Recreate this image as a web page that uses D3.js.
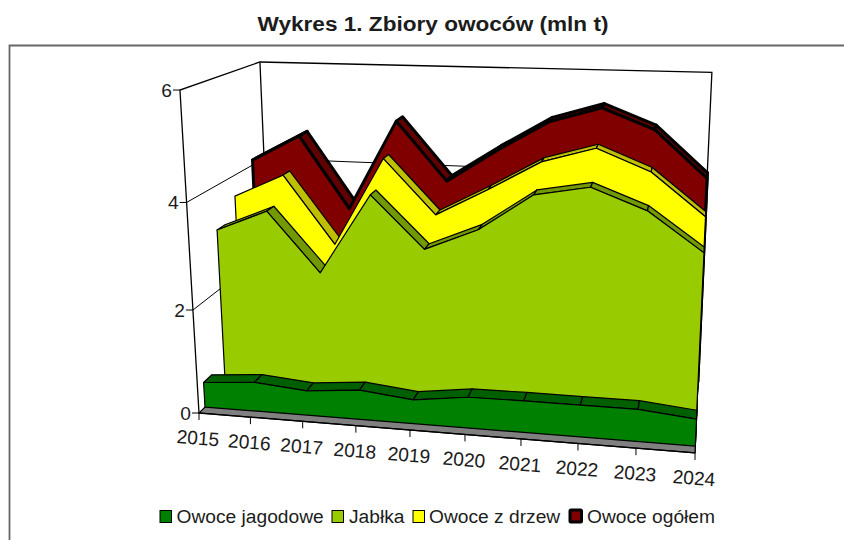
<!DOCTYPE html>
<html lang="pl">
<head>
<meta charset="utf-8">
<script src="https://cdnjs.cloudflare.com/ajax/libs/d3/7.8.5/d3.min.js"></script>
<style>
html,body{margin:0;padding:0;background:#fff;}
svg{display:block;}
text{font-family:"Liberation Sans",Arial,sans-serif;fill:#1c1c1c;}
</style>
</head>
<body>
<svg id="c" width="844" height="540"></svg>
<script>
const titleText = "Wykres 1. Zbiory owoców (mln t)";
const years = [2015,2016,2017,2018,2019,2020,2021,2022,2023,2024];
const yTicks = [0,2,4,6];
const seriesNames = ["Owoce jagodowe","Jabłka","Owoce z drzew","Owoce ogółem"];
const berries = [0.49,0.57,0.48,0.57,0.46,0.59,0.60,0.60,0.60,0.50];
const apples  = [3.16,3.57,2.43,3.97,2.99,3.41,4.10,4.28,3.90,3.19];
const trees   = [3.59,4.05,2.72,4.45,3.40,3.93,4.50,4.79,4.39,3.60];
const total   = [4.10,4.63,3.18,4.99,3.83,4.48,5.07,5.37,4.98,4.09];
const seriesValues = [berries,apples,trees,total];
const frontColors = ["#008000","#99CC00","#FFFF00","#800000"];
const topColors   = ["#006000","#739900","#BFBF00","#600000"];

const svg = d3.select("#c");
const W = 844, H = 540;

const xS = d3.scalePoint().domain(years).range([0,1]);
const yS = d3.scaleLinear().domain([0,6]).range([0,1]);
const zFront = d3.scaleOrdinal().domain(seriesNames).range([0.0715,0.328,0.573,0.833]);
const zDepth = d3.scaleOrdinal().domain(seriesNames).range([0.1,0.1,0.1,0.13]);

function P(u,v,t){
  const w = 1 - 0.075*u - 0.0637*v + 0.164*t;
  return [
    (199 + 443.9*u - 30.5*v + 117.5*t)/w,
    (413 +   6.0*u - 328.7*v - 16.1*t)/w
  ];
}
const line = d3.line();
const closed = pts => line(pts) + "Z";

svg.append("rect").attr("width",W).attr("height",H).attr("fill","#fff");

// Frame: the reference crop only shows its top and left sides
svg.append("path").attr("d",line([[9.5,H],[9.5,45.5],[W,45.5]]))
  .attr("fill","none").attr("stroke","#666").attr("stroke-width",1.8);

// Title
svg.append("text").attr("x",433).attr("y",31).attr("text-anchor","middle")
  .attr("font-size",19.5).attr("font-weight","bold")
  .attr("textLength",351).attr("lengthAdjust","spacingAndGlyphs").text(titleText);

// Walls
const walls = svg.append("g").attr("fill","none").attr("stroke","#000").attr("stroke-width",1.3);
walls.append("path").attr("d",line([P(0,0,0),P(0,1,0),P(0,1,1),P(1,1,1),P(1,0,1),P(1,0,0)]));
walls.append("path").attr("d",line([P(0,1,1),P(0,0,1)]));
yTicks.filter(d=>d>0&&d<6).forEach(d=>{
  const v = yS(d);
  walls.append("path").attr("stroke-width",1).attr("d",line([P(0,v,0),P(0,v,1),P(1,v,1)]));
});

// Floor
svg.append("path").attr("d",closed([P(0,0,0),P(1,0,0),P(1,0,1),P(0,0,1)]))
  .attr("fill","#808080").attr("stroke","#000").attr("stroke-width",1.2);

// Y axis ticks + labels
yTicks.forEach(d=>{
  const p = P(0,yS(d),0);
  svg.append("line").attr("x1",p[0]-7).attr("x2",p[0]).attr("y1",p[1]).attr("y2",p[1])
    .attr("stroke","#000").attr("stroke-width",1);
  svg.append("text").attr("x",p[0]-8).attr("y",p[1]).attr("dy","0.35em")
    .attr("text-anchor","end").attr("font-size",19.2).text(d);
});

// Series, back to front
seriesNames.map((name,i)=>i).reverse().forEach(i=>{
  const vals = seriesValues[i];
  const t0 = zFront(seriesNames[i]), t1 = t0 + zDepth(seriesNames[i]);
  const sw = i===3 ? 3 : 1.2;
  const minWidth = i===3 ? 0 : 2;   // edge-on faces are not seen
  const g = svg.append("g").attr("stroke","#000").attr("stroke-width",sw).attr("stroke-linejoin","round");
  const front = years.map((yr,k)=>P(xS(yr),yS(vals[k]),t0));
  const back  = years.map((yr,k)=>P(xS(yr),yS(vals[k]),t1));
  const last = years.length-1, uEnd = xS(years[last]);
  g.append("path").attr("fill",topColors[i])
    .attr("d",closed([front[last],back[last],P(uEnd,0,t1),P(uEnd,0,t0)]));
  d3.range(last).forEach(k=>{
    const q = [front[k],front[k+1],back[k+1],back[k]];
    const edge = Math.hypot(front[k+1][0]-front[k][0],front[k+1][1]-front[k][1]);
    if(d3.polygonArea(q) > minWidth*edge) g.append("path").attr("fill",topColors[i]).attr("d",closed(q));
  });
  const base = [P(uEnd,0,t0),P(xS(years[0]),0,t0)];
  g.append("path").attr("fill",frontColors[i])
    .attr("d",closed(front.concat(base)));
});

// X axis line, ticks and labels
svg.append("path").attr("d",line([P(0,0,0),P(1,0,0)])).attr("fill","none").attr("stroke","#000").attr("stroke-width",1.3);
years.forEach(yr=>{
  const p = P(xS(yr),0,0);
  svg.append("line").attr("x1",p[0]).attr("x2",p[0]).attr("y1",p[1]).attr("y2",p[1]+7)
    .attr("stroke","#000").attr("stroke-width",1);
  svg.append("text").attr("transform",`translate(${p[0]-1},${p[1]+25}) rotate(4.6)`)
    .attr("dy","0.35em").attr("text-anchor","middle").attr("font-size",19.2).text(yr);
});

// Legend
const legendSwatchX = [160,332,413,570];
const legendTextX = [176.5,349,429,587];
seriesNames.forEach((name,i)=>{
  const sw = i===3 ? 3 : 1;
  svg.append("rect").attr("x",legendSwatchX[i]).attr("y",i===3?510:510.5).attr("width",11.5).attr("height",12)
    .attr("fill",frontColors[i]).attr("stroke","#000").attr("stroke-width",sw).attr("rx",i===3?1:0);
  svg.append("text").attr("x",legendTextX[i]).attr("y",516.5).attr("dy","0.35em")
    .attr("font-size",19.2).text(name);
});
</script>
</body>
</html>
